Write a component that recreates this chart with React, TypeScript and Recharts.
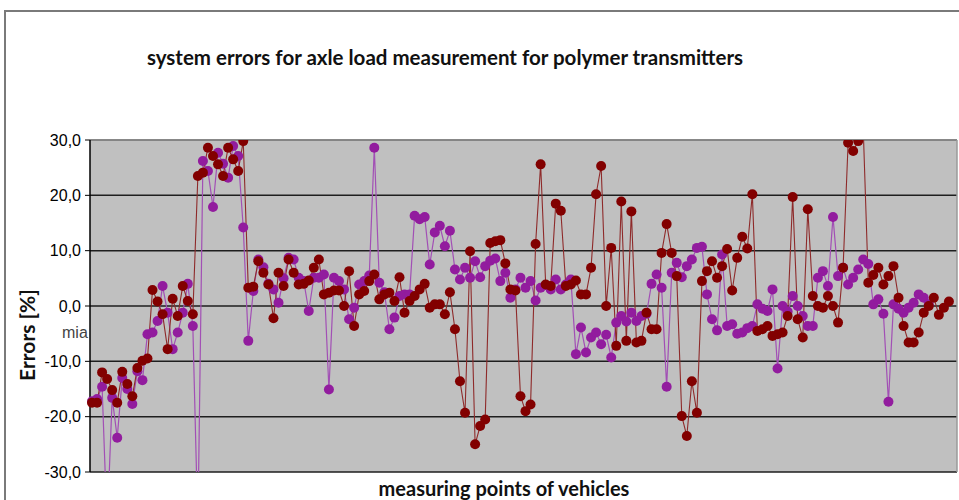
import { LineChart, Line, XAxis, YAxis, CartesianGrid, ReferenceLine } from "recharts";

// errors [%] per measuring point
const RED_SERIES = [
  -17.5, -17.5, -12, -13.2, -15.2, -17.5, -11.9, -14.1, -16.3, -11.2,
  -9.9, -9.5, 2.9, 0.8, -1.5, -7.8, 1.3, -1.8, 3.6, 0.9,
  -1.5, 23.5, 24.1, 28.6, 27.1, 25.6, 23.5, 28.6, 26.5, 24.4,
  29.8, 3.3, 3.5, 8.1, 6.0, 3.9, -2.2, 6.0, 3.6, 8.4,
  6.0, 3.9, 4.0, 4.6, 6.9, 8.4, 2.1, 2.4, 2.8, 2.8,
  0, 6.3, -3.6, 2.1, 2.7, 4.5, 5.7, 1.2, 2.1, 2.4,
  0.9, 5.2, -1.2, 0.9, 1.8, 3.0, 4.0, -0.3, 0.3, 0.3,
  -1.5, 2.5, -4.2, -13.6, -19.3, 9.9, -25, -21.7, -20.5, 11.4,
  11.7, 11.9, 7.7, 3.0, 2.8, -16.3, -19, -17.8, 11.2, 25.6,
  3.9, 3.6, 18.5, 17.2, 3.6, 3.9, 4.6, 2.1, 2.1, 6.9,
  20.2, 25.3, 0, 10.5, -7.2, 18.9, -6.3, 17.1, -6.6, -6.3,
  -1.2, -4.2, -4.2, 9.6, 14.8, 9.6, 5.4, -19.9, -23.5, -13.6,
  -19.3, 4.5, 6.3, 8.1, 5.1, 7.2, 10.3, 2.8, 8.7, 12.5,
  10.4, 20.2, -4.5, -4.2, -3.6, -5.4, -5.1, -4.8, -1.8, 19.7,
  -2.4, -5.7, 17.5, 1.8, 0, -0.3, 1.8, 0, -3, 6.9,
  29.5, 28, 29.8, 32, 4.2, 5.6, 6.9, 3.9, 5.4, 7.2,
  1.5, -3.6, -6.6, -6.6, -4.8, -1.2, 0, 1.5, -1.6, -0.3,
  0.8,
];

const PURPLE_SERIES = [
  -17.2, -16.8, -14.6, -40, -16.6, -23.8, -13, -15, -17.7, -11.8,
  -13.4, -5.1, -4.8, -2.7, 3.6, -1.2, -7.8, -4.8, -1.2, 4,
  -3.6, -40, 26.2, 24.4, 17.9, 27.7, 25.7, 23.2, 28.9, 27.1,
  14.2, -6.3, 2.7, 8.4, 7, 4, 3, 0.6, 5, 8.7,
  8.4, 5.1, 4.5, -0.9, 5.1, 5.1, 5.7, -15.1, 5.1, 4.5,
  3, -2.4, -0.3, 3.9, 4.5, 5.5, 28.6, 4.2, 2.5, -4.2,
  -2.1, 1.8, 2.1, 2.1, 16.3, 15.7, 16.1, 7.5, 13.3, 14.5,
  10.8, 13.6, 6.6, 4.8, 6.9, 5.1, 8.1, 5.2, 7.2, 8.2,
  8.6, 4.5, 6, 1.5, 3, 5.1, 3.3, 4.5, 1, 3.3,
  3.8, 3, 4.8, 3, 3.9, 4.8, -8.7, -3.9, -8.4, -5.7,
  -4.8, -6.9, -5.2, -9.3, -3, -1.8, -2.8, -1.2, -2.7, -1.8,
  -1.4, 4, 5.7, 3.3, -14.6, 6, 7.8, 5.2, 7.2, 8.4,
  10.5, 10.7, 2.1, -2.4, -4.4, 9.3, -3.6, -3.3, -5, -4.8,
  -4, -3.6, 0.3, -0.5, -0.9, 3, -11.3, 0, -1, 1.8,
  0, -1.8, -3.6, -3.6, 5.1, 6.3, 3.6, 16.1, 5.4, 6.9,
  3.9, 5.1, 6.6, 8.4, 7.6, 0.3, 1.2, -1.4, -17.3, 0.3,
  -0.5, -1.2, -0.3, 0.6, 2.1, 1.5, 0.3,
];

const Y_TICKS = [-30, -20, -10, 0, 10, 20, 30];

const TITLE = "system errors for axle load measurement for polymer transmitters";
const X_LABEL = "measuring points of vehicles";
const Y_LABEL = "Errors [%]";

const data = RED_SERIES.map((r, i) => ({
  i,
  red: r,
  purple: i < PURPLE_SERIES.length ? PURPLE_SERIES[i] : null,
}));

const lastIdx = RED_SERIES.length - 1;
const X_DOMAIN = [-0.4, lastIdx + 1.6];

const fmt = (v: number) => v.toFixed(1).replace(".", ",");

export default function App() {
  return (
    <div
      style={{
        position: "absolute", left: 0, top: 0, width: 959, height: 500,
        overflow: "hidden", background: "#fff", fontFamily: "Lato, sans-serif",
      }}
    >
      <div
        style={{
          position: "absolute", left: 4, top: 10, width: 1000, height: 600,
          borderTop: "2px solid #7a7a7a", borderLeft: "2px solid #7a7a7a",
        }}
      />
      <div style={{ position: "absolute", left: 0, top: 0 }}>
        <LineChart width={959} height={500} data={data} margin={{ top: 140, right: 2, bottom: 28, left: 0 }}>
          <CartesianGrid fill="#c0c0c0" fillOpacity={1} vertical={false} stroke="#1e1e1e" strokeWidth={1.5} />
          <XAxis type="number" dataKey="i" domain={X_DOMAIN} hide />
          <YAxis
            domain={[-30, 30]}
            ticks={Y_TICKS}
            interval={0}
            allowDataOverflow
            width={90}
            tickFormatter={fmt}
            tickSize={5}
            tickMargin={4}
            tick={{ fill: "#000", fontSize: 16, fontFamily: "Liberation Sans, Arial, sans-serif" }}
            tickLine={{ stroke: "#000" }}
            axisLine={{ stroke: "#000", strokeWidth: 1.5 }}
          />
          <ReferenceLine y={30} stroke="#9a9a9a" strokeWidth={1.5} />
          <ReferenceLine x={X_DOMAIN[1]} stroke="#9a9a9a" strokeWidth={1.5} />
          <Line
            dataKey="purple"
            stroke="#a24fb5"
            strokeWidth={1.2}
            dot={{ r: 5, fill: "#921c9e", stroke: "#921c9e", strokeWidth: 0 }}
            isAnimationActive={false}
          />
          <Line
            dataKey="red"
            stroke="#8e2a2a"
            strokeWidth={1.1}
            dot={{ r: 5, fill: "#820000", stroke: "#820000", strokeWidth: 0 }}
            isAnimationActive={false}
          />
        </LineChart>
      </div>
      <div
        style={{
          position: "absolute", left: 0, width: 890, top: 45, textAlign: "center",
          fontSize: 20.5, fontWeight: 700, color: "#111", whiteSpace: "nowrap",
        }}
      >
        {TITLE}
      </div>
      <div
        style={{
          position: "absolute", left: 300, width: 408, top: 476, textAlign: "center",
          fontSize: 20, fontWeight: 700, color: "#111",
        }}
      >
        {X_LABEL}
      </div>
      <div
        style={{
          position: "absolute", left: 26, top: 335, transform: "translate(-50%, -50%) rotate(-90deg)",
          fontSize: 21, fontWeight: 700, color: "#111", whiteSpace: "nowrap",
        }}
      >
        {Y_LABEL}
      </div>
      <div
        style={{
          position: "absolute", left: 62, top: 324, fontSize: 16, color: "#444",
          fontFamily: "Liberation Sans, Arial, sans-serif",
        }}
      >
        mia
      </div>
    </div>
  );
}
